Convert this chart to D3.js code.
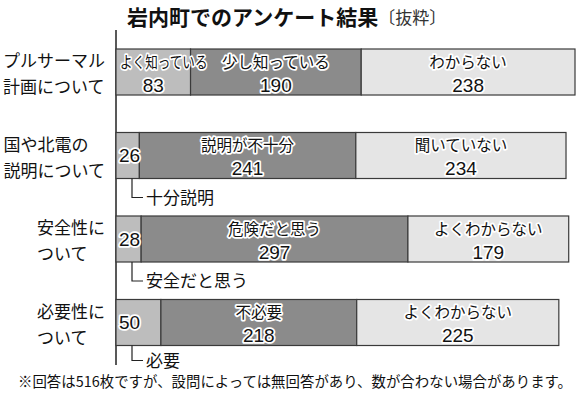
<!DOCTYPE html>
<html lang="ja">
<head>
    <meta charset="UTF-8">
    <title>岩内町でのアンケート結果</title>
    <script src="https://d3js.org/d3.v7.min.js"></script>
    <style>
        * { margin: 0; padding: 0; box-sizing: border-box; }
        body {
            background: #ffffff;
            font-family: "Noto Sans CJK JP", "Noto Sans", sans-serif;
            overflow: hidden;
        }
        .seg { stroke: #3a3a3a; stroke-width: 1.2px; }
        .halo {
            fill: #111;
            stroke: #ffffff;
            stroke-width: 3.5px;
            stroke-linejoin: round;
            paint-order: stroke;
        }
        .num { font-family: "Liberation Sans", Arial, sans-serif; }
    </style>
</head>
<body>
<svg></svg>
<script>
    // 設問（左のラベル、2行）
    const questions = [
        ["プルサーマル", "計画について"],
        ["国や北電の", "説明について"],
        ["安全性に", "ついて"],
        ["必要性に", "ついて"]
    ];
    // 回答の区分
    const answers = [
        ["よく知っている", "少し知っている", "わからない"],
        ["十分説明", "説明が不十分", "聞いていない"],
        ["安全だと思う", "危険だと思う", "よくわからない"],
        ["必要", "不必要", "よくわからない"]
    ];
    // 回答数
    const counts = [
        [83, 190, 238],
        [26, 241, 234],
        [28, 297, 179],
        [50, 218, 225]
    ];
    const segColors = ["#bdbdbd", "#8b8b8b", "#e5e5e5"];
    const title = "岩内町でのアンケート結果";
    const subTitle = "〔抜粋〕";
    const note = "※回答は516枚ですが、設問によっては無回答があり、数が合わない場合があります。";

    const width = 580, height = 399;
    const svg = d3.select("svg").attr("width", width).attr("height", height);

    const x = d3.scaleLinear()
        .domain([0, d3.max(counts, c => d3.sum(c))])
        .range([116, 575]);

    const y = d3.scaleBand()
        .domain(d3.range(questions.length))
        .range([49, 345.5])
        .paddingInner(0.449)
        .paddingOuter(0);

    // タイトル
    const t = svg.append("text")
        .attr("x", 127).attr("y", 24.5)
        .attr("fill", "#111");
    t.append("tspan").attr("font-size", 21).attr("font-weight", "bold").text(title);
    t.append("tspan").attr("font-size", 17).attr("fill", "#333").attr("dy", -1).text(subTitle);

    // 縦の軸線
    svg.append("line")
        .attr("x1", 116).attr("x2", 116)
        .attr("y1", 30).attr("y2", 365)
        .attr("stroke", "#222").attr("stroke-width", 1.5);

    const rows = svg.selectAll("g.row")
        .data(counts.map((c, i) => ({ i, c, labels: answers[i], q: questions[i] })))
        .enter().append("g")
        .attr("class", "row");

    rows.each(function(d) {
        const g = d3.select(this);
        const top = y(d.i), bh = y.bandwidth(), cy = top + bh / 2;
        const stack = d3.cumsum(d.c);
        const segs = d.c.map((v, j) => ({
            v, j, x0: x(stack[j] - v), x1: x(stack[j]), label: d.labels[j]
        }));

        g.selectAll("rect")
            .data(segs)
            .enter().append("rect")
            .attr("class", "seg")
            .attr("x", s => s.x0)
            .attr("y", top)
            .attr("width", s => s.x1 - s.x0)
            .attr("height", bh)
            .attr("fill", s => segColors[s.j]);

        segs.forEach(s => {
            const w = s.x1 - s.x0;
            const callout = s.j === 0 && s.v < 60;
            if (callout) {
                // 数字だけ中に、ラベルは下へ引き出す
                g.append("text").attr("class", "halo num")
                    .attr("x", s.x0 + 3).attr("y", cy)
                    .attr("dy", "0.36em")
                    .attr("font-size", 19)
                    .text(s.v);
                const ly = top + bh + (d.i === 3 ? 15 : 19);
                g.append("path")
                    .attr("d", `M132,${top + bh}V${ly}H143`)
                    .attr("fill", "none").attr("stroke", "#222").attr("stroke-width", 1.2);
                g.append("text")
                    .attr("x", 146).attr("y", ly).attr("dy", "0.36em")
                    .attr("font-size", 17).attr("fill", "#111")
                    .text(s.label);
            } else {
                const mid = (s.x0 + s.x1) / 2;
                const lab = g.append("text").attr("class", "halo")
                    .attr("x", mid).attr("y", cy - 10)
                    .attr("dy", "0.36em")
                    .attr("text-anchor", "middle")
                    .attr("font-size", 15.5)
                    .text(s.label);
                const tw = lab.node().getComputedTextLength();
                if (tw > w + 10) {
                    // 狭い区分は詰めて表示
                    lab.attr("text-anchor", "start")
                        .attr("x", s.x0 + 4)
                        .attr("textLength", w + 13)
                        .attr("lengthAdjust", "spacingAndGlyphs");
                }
                g.append("text").attr("class", "halo num")
                    .attr("x", mid).attr("y", cy + 13)
                    .attr("dy", "0.36em")
                    .attr("text-anchor", "middle")
                    .attr("font-size", 19)
                    .text(s.v);
            }
        });

        // 左の設問ラベル（ブロックを右寄せ、行は左寄せ）
        const lbl = g.append("g");
        const lines = lbl.selectAll("text")
            .data(d.q)
            .enter().append("text")
            .attr("x", 0)
            .attr("y", (q, k) => cy - 11 + k * 26)
            .attr("dy", "0.36em")
            .attr("font-size", 17)
            .attr("fill", "#111")
            .text(q => q);
        const maxW = d3.max(lines.nodes(), n => n.getComputedTextLength());
        lbl.attr("transform", `translate(${105 - maxW},0)`);
    });

    // 注記
    svg.append("text")
        .attr("x", 18).attr("y", 382)
        .attr("dy", "0.36em")
        .attr("font-size", 14.4)
        .attr("textLength", 554)
        .attr("lengthAdjust", "spacing")
        .attr("fill", "#111")
        .text(note);
</script>
</body>
</html>
